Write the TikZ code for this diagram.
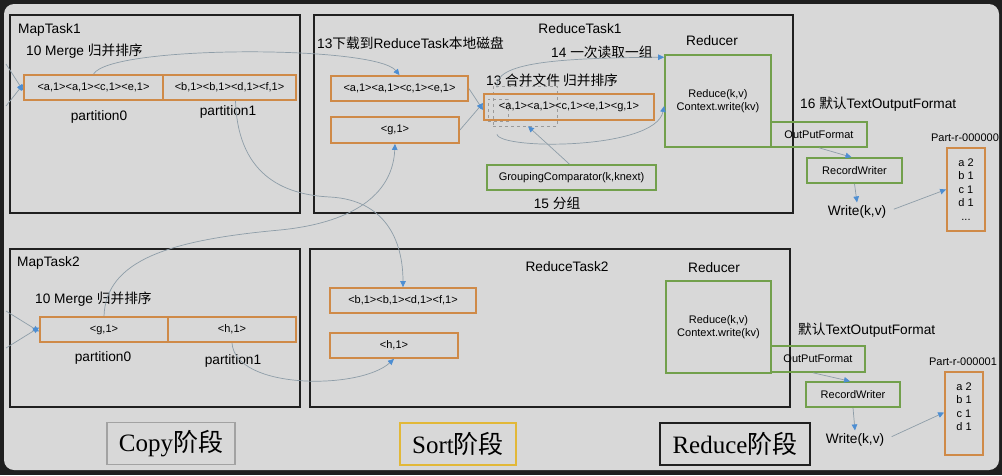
\documentclass[tikz,border=0pt]{standalone}
\usepackage{fontspec}
\setmainfont{Liberation Sans}
\newfontfamily\cjk{Noto Sans CJK SC}
\newfontfamily\phasefont{Liberation Serif}
\usetikzlibrary{arrows.meta}
\newcommand{\zh}[1]{{\cjk #1}}
\definecolor{screen}{HTML}{1F1F1F}
\definecolor{panel}{HTML}{D8D8D8}
\definecolor{frameblack}{HTML}{202020}
\definecolor{boxorange}{HTML}{CF8A48}
\definecolor{boxgreen}{HTML}{72A04C}
\definecolor{arrowblue}{HTML}{4D8ED2}
\definecolor{flowgray}{HTML}{8E9DA8}
\definecolor{dashgray}{HTML}{9A9A9A}
\definecolor{copygray}{HTML}{A2A2A2}
\definecolor{sortyellow}{HTML}{E2B838}
\begin{document}
\begin{tikzpicture}[x=1pt,y=-1pt,
	task/.style={draw=frameblack,line width=1.8pt},
	obox/.style={draw=boxorange,line width=1.8pt,minimum height=25pt,inner sep=0pt,font=\fontsize{11}{13}\selectfont},
	gbox/.style={draw=boxgreen,line width=1.6pt,minimum height=25pt,inner sep=0pt,font=\fontsize{11}{13}\selectfont},
	lbl/.style={inner sep=0pt,font=\fontsize{13.7}{16}\selectfont},
	small/.style={inner sep=0pt,font=\fontsize{11}{13.3}\selectfont},
	flow/.style={draw=flowgray,line width=0.7pt,-{Triangle[length=6pt,width=5.5pt,color=arrowblue]}},
	phase/.style={line width=1.5pt,minimum height=42pt,inner sep=0pt,font=\phasefont\fontsize{25}{28}\selectfont}]
	\useasboundingbox (0,0) rectangle (1002,475);
	\fill[color=screen] (0,0) rectangle (1002,475);
	\fill[color=panel,rounded corners=10pt] (4,4) rectangle (999,470);
	% task frames
	\draw[task] (10,15) rectangle (300,213);
	\draw[task] (314,15) rectangle (793,213);
	\draw[task] (10,249) rectangle (300,407);
	\draw[task] (310,249) rectangle (790,407);
	% MapTask1
	\node[lbl,anchor=west] (mtone) at (18,30) {MapTask1};
	\node[lbl,anchor=west] (mgone) at (26,51) {10 Merge \zh{归并排序}};
	\node[obox,minimum width=139pt] (mapapart) at (93.5,87.5) {<a,1><a,1><c,1><e,1>};
	\node[obox,minimum width=133pt] (mapbpart) at (229.5,87.5) {<b,1><b,1><d,1><f,1>};
	\node[lbl] (ponea) at (99,117) {partition0};
	\node[lbl] (poneb) at (228,112) {partition1};
	% MapTask2
	\node[lbl,anchor=west] (mttwo) at (17,263) {MapTask2};
	\node[lbl,anchor=west] (mgtwo) at (35,299) {10 Merge \zh{归并排序}};
	\node[obox,minimum width=128pt] (mapgpart) at (104,329.5) {<g,1>};
	\node[obox,minimum width=128pt] (maphpart) at (232,329.5) {<h,1>};
	\node[lbl] (ptwoa) at (103,358) {partition0};
	\node[lbl] (ptwob) at (233,361) {partition1};
	% ReduceTask1
	\node[lbl] (rtone) at (580,29) {ReduceTask1};
	\node[lbl,anchor=west] (dlone) at (317,43) {13\zh{下载到}ReduceTask\zh{本地磁盘}};
	\node[lbl] (rdone) at (712,41) {Reducer};
	\node[lbl,anchor=west] (rdgrp) at (551,52) {14 \zh{一次读取一组}};
	\node[lbl,anchor=west] (mrgone) at (486,80) {13 \zh{合并文件 归并排序}};
	\node[obox,minimum width=137pt] (redapart) at (399.5,88.5) {<a,1><a,1><c,1><e,1>};
	\node[obox,minimum width=128pt,minimum height=26pt] (redgpart) at (395,130) {<g,1>};
	\node[draw=dashgray,dashed,line width=0.6pt,minimum width=64pt,minimum height=40pt] (grp) at (525,106) {};
	\node[draw=dashgray,dashed,line width=0.5pt,minimum width=20pt,minimum height=22pt] (grpkey) at (498,110) {};
	\node[obox,minimum width=170pt,minimum height=26pt] (merged) at (569,107) {<a,1><a,1><c,1><e,1><g,1>};
	\node[gbox,minimum width=106pt,minimum height=92pt,align=center] (reducerone) at (718,101) {Reduce(k,v)\\Context.write(kv)};
	\node[gbox,minimum width=169pt] (gcomp) at (571.5,177.5) {GroupingComparator(k,knext)};
	\node[lbl] (fz) at (557,203) {15 \zh{分组}};
	\node[gbox,minimum width=96pt] (opfone) at (819,134.5) {OutPutFormat};
	\node[gbox,minimum width=95pt] (rwone) at (854.5,170.5) {RecordWriter};
	\node[lbl,anchor=west] (tofone) at (800,104) {16 \zh{默认}TextOutputFormat};
	\node[small] (fileone) at (965,138) {Part-r-000000};
	\node[obox,minimum width=38pt,minimum height=83pt,align=center,font=\fontsize{11}{13.5}\selectfont] (partone) at (966,189.5) {a 2\\b 1\\c 1\\d 1\\...};
	\node[lbl] (wrone) at (857,212) {Write(k,v)};
	% ReduceTask2
	\node[lbl] (rttwo) at (567,267) {ReduceTask2};
	\node[lbl] (rdtwo) at (714,268) {Reducer};
	\node[obox,minimum width=146pt] (redbpart) at (403,300.5) {<b,1><b,1><d,1><f,1>};
	\node[obox,minimum width=128pt] (redhpart) at (394,345.5) {<h,1>};
	\node[gbox,minimum width=105pt,minimum height=92pt,align=center] (reducertwo) at (718.5,327) {Reduce(k,v)\\Context.write(kv)};
	\node[gbox,minimum width=94pt,minimum height=26pt] (opftwo) at (818,359) {OutPutFormat};
	\node[gbox,minimum width=94pt] (rwtwo) at (853,394.5) {RecordWriter};
	\node[lbl,anchor=west] (toftwo) at (798,330) {\zh{默认}TextOutputFormat};
	\node[small] (filetwo) at (963,362) {Part-r-000001};
	\node[obox,minimum width=38pt,minimum height=83pt,align=center,font=\fontsize{11}{13.5}\selectfont] (parttwo) at (964,413.5) {a 2\\b 1\\c 1\\d 1\\ \mbox{}};
	\node[lbl] (wrtwo) at (855,440) {Write(k,v)};
	% phases
	\node[phase,draw=copygray,minimum width=128pt] (copyph) at (171,443.5) {Copy\zh{阶段}};
	\node[phase,draw=sortyellow,minimum width=116pt] (sortph) at (458,444) {Sort\zh{阶段}};
	\node[phase,draw=frameblack,minimum width=150pt] (reduceph) at (735,444) {Reduce\zh{阶段}};
	% incoming spills
	\coordinate (inonea) at (6,64);
	\coordinate (inoneb) at (6,106);
	\coordinate (intwoa) at (6,311);
	\coordinate (intwob) at (6,348);
	\draw[flow] (inonea) -- ([yshift=-3pt]mapapart.west);
	\draw[flow] (inoneb) -- ([yshift=3pt]mapapart.west);
	\draw[flow] (intwoa) -- ([yshift=-2pt]mapgpart.west);
	\draw[flow] (intwob) -- ([yshift=2pt]mapgpart.west);
	% copy to reduce tasks
	\draw[flow] (mapapart.north) .. controls (110,45) and (375,45) .. (redapart.north);
	\draw[flow] ([xshift=6pt]mapbpart.south) .. controls (238,180) and (290,195) .. (330,197) .. controls (385,200) and (403,240) .. (redbpart.north);
	\draw[flow] (mapgpart.north) .. controls (106,260) and (170,240) .. (280,230) .. controls (360,222) and (393,190) .. (redgpart.south);
	\draw[flow] (maphpart.south) .. controls (235,390) and (360,390) .. (redhpart.south);
	% merge and group
	\draw[flow] (redapart.east) -- ([yshift=-3pt]merged.west);
	\draw[flow] (redgpart.east) -- ([yshift=4pt]merged.west);
	\draw[flow] ([xshift=-28pt,yshift=-2pt]grp.north) .. controls (493,62) and (560,58) .. ([yshift=-3pt]reducerone.north west);
	\draw[flow] ([xshift=-28pt,yshift=-8pt]grp.south) .. controls (500,150) and (655,150) .. ([yshift=-5pt]reducerone.west);
	\draw[flow] ([xshift=-2pt]gcomp.north) -- ([xshift=3pt]grp.south);
	% output
	\draw[flow] (opfone.south) -- ([xshift=-3pt]rwone.north);
	\draw[flow] (rwone.south) -- ([yshift=3pt]wrone.north);
	\draw[flow,shorten <=8pt] (wrone.east) -- (partone.west);
	\draw[flow] ([xshift=-5pt]opftwo.south) -- ([xshift=-3pt]rwtwo.north);
	\draw[flow] (rwtwo.south) -- ([yshift=3pt]wrtwo.north);
	\draw[flow,shorten <=8pt] (wrtwo.east) -- ([yshift=1pt]parttwo.west);
\end{tikzpicture}
\end{document}
